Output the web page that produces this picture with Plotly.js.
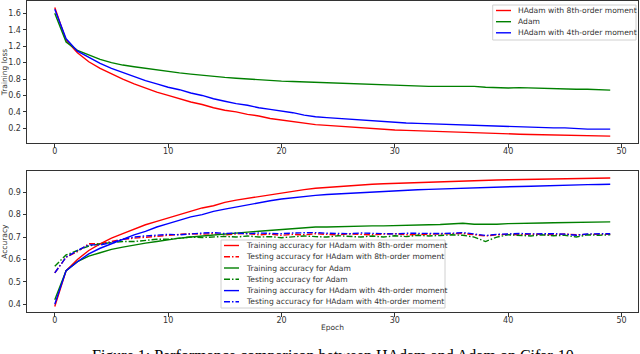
<!DOCTYPE html>
<html>
<head>
<meta charset="utf-8">
<script src="https://cdn.plot.ly/plotly-3.0.1.min.js"></script>
<style>
  html, body { margin: 0; padding: 0; background: #fff; }
  #plot { width: 640px; height: 354px; }
</style>
</head>
<body>
<div id="plot"></div>
<script>
// epochs 0..49
let epochs = Array.from({length: 50}, (_, i) => i);

// training loss (top panel)
let lossH8 = [1.67, 1.27, 1.12, 1.01, 0.93, 0.86, 0.80, 0.74, 0.69, 0.64,
  0.60, 0.56, 0.52, 0.49, 0.45, 0.42, 0.40, 0.37, 0.35, 0.32,
  0.30, 0.28, 0.26, 0.245, 0.235, 0.225, 0.215, 0.21, 0.20, 0.19,
  0.18, 0.175, 0.17, 0.16, 0.155, 0.15, 0.148, 0.145, 0.14, 0.135,
  0.13, 0.128, 0.125, 0.122, 0.12, 0.118, 0.112, 0.11, 0.108, 0.105];
let lossAdam = [1.60, 1.25, 1.15, 1.09, 1.04, 1.00, 0.97, 0.95, 0.93, 0.91,
  0.89, 0.875, 0.86, 0.845, 0.83, 0.82, 0.81, 0.80, 0.79, 0.78,
  0.775, 0.77, 0.765, 0.755, 0.75, 0.745, 0.74, 0.735, 0.73, 0.73,
  0.725, 0.72, 0.715, 0.71, 0.71, 0.71, 0.705, 0.71, 0.70, 0.695,
  0.69, 0.695, 0.69, 0.685, 0.68, 0.68, 0.675, 0.675, 0.67, 0.665];
let lossH4 = [1.65, 1.29, 1.14, 1.06, 0.99, 0.93, 0.88, 0.83, 0.78, 0.74,
  0.70, 0.67, 0.63, 0.60, 0.56, 0.53, 0.50, 0.48, 0.45, 0.43,
  0.41, 0.39, 0.36, 0.34, 0.33, 0.32, 0.31, 0.30, 0.29, 0.28,
  0.27, 0.265, 0.26, 0.255, 0.25, 0.245, 0.24, 0.235, 0.23, 0.225,
  0.22, 0.215, 0.21, 0.21, 0.205, 0.205, 0.195, 0.19, 0.19, 0.19];

// accuracy (bottom panel)
let trainH8 = [0.39, 0.55, 0.60, 0.64, 0.67, 0.695, 0.715, 0.735, 0.755, 0.77,
  0.785, 0.80, 0.815, 0.83, 0.84, 0.855, 0.865, 0.873, 0.882, 0.89,
  0.897, 0.905, 0.912, 0.918, 0.922, 0.926, 0.93, 0.933, 0.936, 0.938,
  0.94, 0.942, 0.944, 0.946, 0.948, 0.95, 0.951, 0.953, 0.954, 0.955,
  0.956, 0.957, 0.958, 0.959, 0.96, 0.961, 0.962, 0.963, 0.963, 0.964];
let testH8 = [0.54, 0.61, 0.635, 0.67, 0.67, 0.68, 0.69, 0.695, 0.70, 0.705,
  0.71, 0.712, 0.715, 0.713, 0.715, 0.71, 0.714, 0.716, 0.71, 0.713,
  0.708, 0.712, 0.71, 0.715, 0.712, 0.71, 0.714, 0.712, 0.71, 0.713,
  0.715, 0.71, 0.712, 0.714, 0.713, 0.715, 0.716, 0.712, 0.705, 0.71,
  0.712, 0.71, 0.713, 0.712, 0.71, 0.714, 0.71, 0.712, 0.713, 0.712];
let trainAdam = [0.42, 0.55, 0.59, 0.615, 0.63, 0.645, 0.655, 0.665, 0.673, 0.68,
  0.688, 0.695, 0.70, 0.705, 0.71, 0.715, 0.718, 0.722, 0.726, 0.73,
  0.732, 0.735, 0.74, 0.745, 0.745, 0.747, 0.748, 0.748, 0.75, 0.75,
  0.752, 0.752, 0.753, 0.755, 0.756, 0.758, 0.762, 0.757, 0.756, 0.757,
  0.76, 0.762, 0.762, 0.763, 0.764, 0.765, 0.765, 0.766, 0.767, 0.768];
let testAdam = [0.57, 0.62, 0.64, 0.66, 0.67, 0.675, 0.68, 0.68, 0.685, 0.69,
  0.69, 0.695, 0.70, 0.698, 0.70, 0.703, 0.70, 0.705, 0.70, 0.702,
  0.697, 0.70, 0.705, 0.702, 0.70, 0.706, 0.703, 0.70, 0.705, 0.70,
  0.706, 0.702, 0.708, 0.705, 0.707, 0.71, 0.708, 0.70, 0.68, 0.70,
  0.71, 0.707, 0.705, 0.71, 0.706, 0.708, 0.70, 0.71, 0.708, 0.71];
let trainH4 = [0.40, 0.55, 0.59, 0.625, 0.65, 0.67, 0.69, 0.71, 0.725, 0.745,
  0.76, 0.775, 0.79, 0.80, 0.815, 0.825, 0.835, 0.845, 0.855, 0.862,
  0.87, 0.876, 0.882, 0.886, 0.89, 0.893, 0.896, 0.899, 0.902, 0.905,
  0.907, 0.909, 0.911, 0.913, 0.915, 0.917, 0.918, 0.92, 0.921, 0.923,
  0.924, 0.926, 0.927, 0.929, 0.93, 0.932, 0.933, 0.934, 0.935, 0.936];
let testH4 = [0.54, 0.61, 0.64, 0.665, 0.665, 0.675, 0.69, 0.70, 0.705, 0.71,
  0.712, 0.71, 0.715, 0.718, 0.72, 0.716, 0.718, 0.715, 0.718, 0.716,
  0.715, 0.718, 0.72, 0.72, 0.717, 0.716, 0.715, 0.718, 0.716, 0.715,
  0.714, 0.717, 0.716, 0.715, 0.716, 0.717, 0.72, 0.714, 0.707, 0.712,
  0.715, 0.716, 0.714, 0.716, 0.715, 0.713, 0.708, 0.714, 0.716, 0.715];

let lossNames = ["HAdam with 8th-order moment", "Adam", "HAdam with 4th-order moment"];
let accNames = [
  "Training accuracy for HAdam with 8th-order moment",
  "Testing accuracy for HAdam with 8th-order moment",
  "Training accuracy for Adam",
  "Testing accuracy for Adam",
  "Training accuracy for HAdam with 4th-order moment",
  "Testing accuracy for HAdam with 4th-order moment"
];

const RED = "#ff0000", GREEN = "#008000", BLUE = "#0000ff";
const DASHDOT = "6px,2px,1.5px,2px";

let lossSeries = [
  {y: lossH8, color: RED, dash: "solid"},
  {y: lossAdam, color: GREEN, dash: "solid"},
  {y: lossH4, color: BLUE, dash: "solid"}
];
let accSeries = [
  {y: trainH8, color: RED, dash: "solid"},
  {y: testH8, color: RED, dash: DASHDOT},
  {y: trainAdam, color: GREEN, dash: "solid"},
  {y: testAdam, color: GREEN, dash: DASHDOT},
  {y: trainH4, color: BLUE, dash: "solid"},
  {y: testH4, color: BLUE, dash: DASHDOT}
];

let data = [];
lossSeries.forEach((s, i) => data.push({
  x: epochs, y: s.y, name: lossNames[i], type: "scatter", mode: "lines",
  line: {color: s.color, width: 1.4, dash: s.dash}, xaxis: "x", yaxis: "y",
  showlegend: false
}));
accSeries.forEach((s, i) => data.push({
  x: epochs, y: s.y, name: accNames[i], type: "scatter", mode: "lines",
  line: {color: s.color, width: 1.4, dash: s.dash}, xaxis: "x2", yaxis: "y2",
  showlegend: false
}));

// pixel -> paper helpers (margins l=27, r=2, t=0, b=0)
const W = 640, H = 354, ML = 27, MR = 2;
const px = v => (v - ML) / (W - ML - MR);
const py = v => 1 - v / H;

let shapes = [], annotations = [];

// hand-made legends in matplotlib style
function addLegend(box, rows, names, series, x0) {
  shapes.push({type: "rect", xref: "paper", yref: "paper",
    x0: px(box[0]), x1: px(box[1]), y0: py(box[2]), y1: py(box[3]),
    line: {color: "#d0d0d0", width: 1}, fillcolor: "rgba(255,255,255,0.85)", layer: "above"});
  names.forEach((n, i) => {
    shapes.push({type: "line", xref: "paper", yref: "paper",
      x0: px(x0), x1: px(x0 + 15), y0: py(rows[i]), y1: py(rows[i]),
      line: {color: series[i].color, width: 1.4, dash: series[i].dash}, layer: "above"});
    annotations.push({xref: "paper", yref: "paper", x: px(x0 + 20), y: py(rows[i]),
      xanchor: "left", yanchor: "middle", showarrow: false, text: n,
      font: {family: "DejaVu Sans", size: 7.6, color: "#333"}});
  });
}
addLegend([492.7, 636, 5, 40], [10.5, 21.7, 32.8], lossNames, lossSeries, 496);
addLegend([221, 445, 240, 308], [245.5, 256.7, 268, 279.3, 290.6, 301.8], accNames, accSeries, 224);

// figure caption, cut off by the bottom edge as in the source
annotations.push({xref: "paper", yref: "paper", x: 0.5, y: py(345), xanchor: "center", yanchor: "top",
  showarrow: false, text: "Figure 1: Performance comparison between HAdam and Adam on Cifar-10",
  font: {family: "Liberation Serif", size: 16, color: "#000"}});

let axisCommon = {
  showline: true, mirror: true, linecolor: "#333", linewidth: 1,
  ticks: "outside", ticklen: 3.5, tickcolor: "#333", showgrid: false, zeroline: false,
  tickfont: {family: "DejaVu Sans", size: 8, color: "#333"}
};

let layout = {
  width: W, height: H,
  margin: {l: ML, r: MR, t: 0, b: 0},
  paper_bgcolor: "#fff", plot_bgcolor: "#fff",
  showlegend: false,
  xaxis: Object.assign({}, axisCommon, {range: [-2.45, 51.45], tickvals: [0, 10, 20, 30, 40, 50],
    domain: [0, 1], anchor: "y", ticklabelstandoff: -3}),
  yaxis: Object.assign({}, axisCommon, {range: [0.021, 1.75], tickvals: [0.2, 0.4, 0.6, 0.8, 1.0, 1.2, 1.4, 1.6],
    tickformat: ".1f", domain: [py(143), py(1)], anchor: "x",
    title: {text: "Training loss", standoff: 4, font: {family: "DejaVu Sans", size: 7.5, color: "#333"}}}),
  xaxis2: Object.assign({}, axisCommon, {range: [-2.45, 51.45], tickvals: [0, 10, 20, 30, 40, 50],
    domain: [0, 1], anchor: "y2", ticklabelstandoff: -3,
    title: {text: "Epoch", standoff: 0, font: {family: "DejaVu Sans", size: 7.5, color: "#333"}}}),
  yaxis2: Object.assign({}, axisCommon, {range: [0.364, 0.995], tickvals: [0.4, 0.5, 0.6, 0.7, 0.8, 0.9],
    tickformat: ".1f", domain: [py(312.3), py(171)], anchor: "x2",
    title: {text: "Accuracy", standoff: 4, font: {family: "DejaVu Sans", size: 7.5, color: "#333"}}}),
  shapes: shapes,
  annotations: annotations
};

Plotly.newPlot("plot", data, layout, {staticPlot: true, displayModeBar: false});
</script>
</body>
</html>
